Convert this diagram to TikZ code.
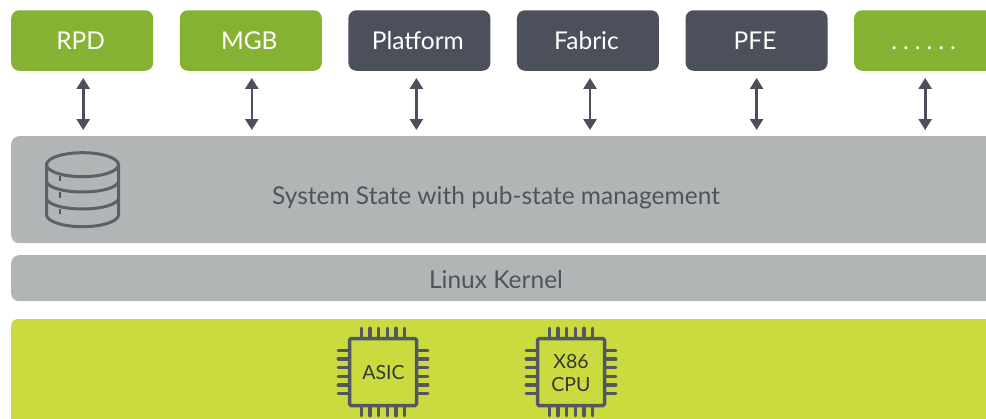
\documentclass[tikz,border=0pt]{standalone}
\usepackage{fontspec}
\setmainfont{Lato}
\usepackage{tikz}
\usetikzlibrary{arrows.meta,calc,positioning}
\definecolor{appgreen}{HTML}{86B234}
\definecolor{appdark}{HTML}{4C505A}
\definecolor{bargray}{HTML}{B1B5B5}
\definecolor{limegreen}{HTML}{CBDB3F}
\definecolor{bartext}{HTML}{4F5459}
\definecolor{chipline}{HTML}{54575F}
\definecolor{chiptext}{HTML}{33363A}

\begin{document}
\begin{tikzpicture}[
	  x=1pt,y=-1pt,
	  every matrix/.style={ampersand replacement=\&,column sep=26.6pt,inner sep=0pt},
	  app/.style={rounded corners=8pt,inner sep=0pt,minimum width=142pt,minimum height=60.5pt,text=white,font=\fontsize{24.5}{28}\selectfont,text height=17.3pt,text depth=0pt,execute at end node=\hspace{3pt}},
	  green/.style={app,fill=appgreen},
	  dark/.style={app,fill=appdark},
	  bar/.style={rounded corners=8pt,fill=bargray,inner sep=0pt,minimum width=1010pt,anchor=north west},
	  bartitle/.style={text=bartext,font=\fontsize{24.5}{28}\selectfont,inner sep=0pt},
	  board/.style={rounded corners=6pt,fill=limegreen,inner sep=0pt,minimum width=1010pt,minimum height=120pt,anchor=north west},
	  chip/.style={draw=chipline,line width=3.5pt,rounded corners=1.5pt,inner sep=0pt,minimum size=67pt},
	  chiptitle/.style={text=chiptext,align=center,inner sep=0pt,font=\fontsize{19.5}{22.5}\selectfont},
	  pin/.style={draw=chipline,line width=3.2pt,line cap=round},
	  dbline/.style={draw=chipline!90!bargray,line width=3pt},
	  twoway/.style={{Triangle[width=13pt,length=11pt]}-{Triangle[width=13pt,length=11pt]},draw=appdark,line width=2.6pt,shorten <=7pt,shorten >=6pt}]
	  \useasboundingbox (0,0) rectangle (986,418);

	  % Layers
	  \node[bar,minimum height=107pt] (state) at (11,136) {};
	  \node[bar,minimum height=46pt] (kernel) at (11,255) {};
	  \node[board] (silicon) at (11,319) {};
	  \node[bartitle] (statetext) at (496,198) {System State with pub-state management};
	  \node[bartitle] (kerneltext) at (496,279.5) {Linux Kernel};

	  % Position the applications using a matrix layout
	  \matrix[anchor=west] at (11,40.5) {
	  \node[green] (rpd) {RPD}; \& \node[green] (mgb) {MGB}; \& \node[dark] (platform) {Platform}; \& \node[dark] (fabric) {Fabric}; \& \node[dark] (pfe) {PFE}; \& \node[green] (more) {.\hspace{6pt}.\hspace{6pt}.\hspace{6pt}.\hspace{6pt}.\hspace{6pt}.\hspace{10pt}};\\
	  };

	  % Arrows down to the state layer
	  \foreach \app/\shift in {rpd/1,mgb/1,platform/-3,fabric/2,pfe/0,more/0}
	  	\draw[twoway] ([xshift=\shift pt]\app.south) -- ([xshift=\shift pt]\app.south |- state.north);

	  % Database icon
	  \draw[dbline] (46.5,164.7) -- (46.5,214.7) arc[start angle=180,end angle=0,x radius=36,y radius=12] -- (118.5,164.7);
	  \draw[dbline] (82.5,164.7) ellipse[x radius=36,y radius=12];
	  \draw[dbline] (46.5,181) arc[start angle=180,end angle=0,x radius=36,y radius=11];
	  \draw[dbline] (46.5,198) arc[start angle=180,end angle=0,x radius=36,y radius=11];
	  \foreach \ya/\yb in {176/181,192/198,209/214}
	  	\draw[draw=chipline,line width=1.5pt] (60,\ya) -- (60,\yb);

	  % Chips
	  \node[chip] (asic) at (383,372) {};
	  \node[chip] (cpu) at (571,372) {};
	  \node[chiptitle] (asictext) at (383.5,373) {ASIC};
	  \node[chiptitle] (cputext) at (571,373) {X86\\CPU};
	  \foreach \chip in {asic,cpu}
	  	\foreach \offset in {-21.7,-13,-4.3,4.3,13,21.7} {
	  	\draw[pin] ([xshift=\offset pt]\chip.north) -- ++(0,-8.5);
	  	\draw[pin] ([xshift=\offset pt]\chip.south) -- ++(0,8.5);
	  	\draw[pin] ([yshift=\offset pt]\chip.west) -- ++(-9.5,0);
	  	\draw[pin] ([yshift=\offset pt]\chip.east) -- ++(9.5,0);
	  	}

\end{tikzpicture}
\end{document}
